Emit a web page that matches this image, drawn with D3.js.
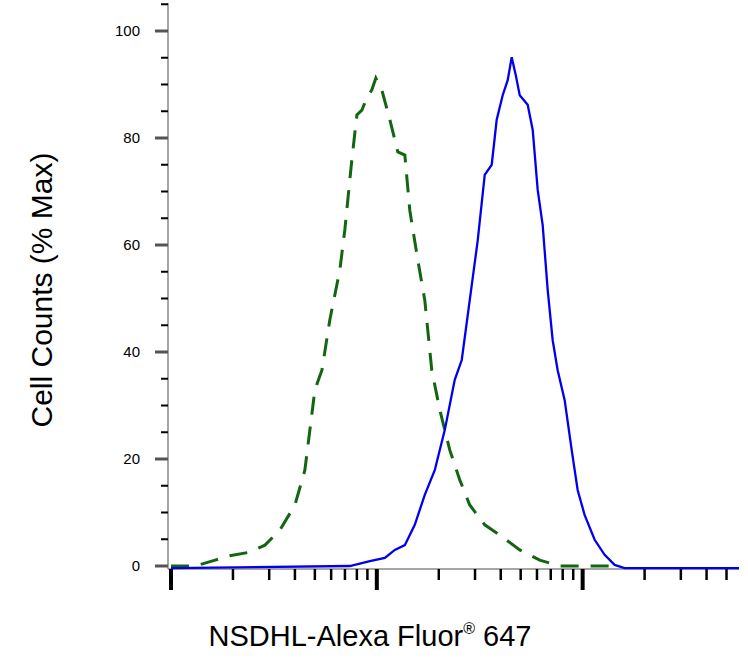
<!DOCTYPE html><html><head><script src="https://cdn.jsdelivr.net/npm/d3@7"></script>
<style>body{margin:0;background:#fff}</style></head><body><svg id="c" width="748" height="665"></svg>
<script>
const yTicks=[0,20,40,60,80,100];
const isoX=[1,1.31,1.64,1.93,2.42,2.86,3.38,4.0,4.47,5.0,5.41,5.91,6.61,6.99,7.56,8.0,8.46,8.85,9.46,9.89,10.57,11.57,12.65,13.68,14.46,15.81,17.1,18.49,20.23,22.61,25.29,28.28,33.44,39.55,49.46,61.85,77.3,96.7,151];
const isoY=[0,0,1.1,1.9,2.6,3.9,6.7,11.4,17.9,32.9,36.6,46,55.3,62.8,75.9,84.3,85.2,87.1,89,91.2,89,83.4,77.4,76.8,66.5,57.2,49.7,36.6,29.2,21.7,16.1,11.4,7.7,5.8,3.0,1.1,0,0,0];
const abX=[1,7.39,9.25,10.94,12.23,13.68,15.29,17.1,19.12,21.38,23.91,25.86,28.28,30.93,33.44,36.16,38.23,40.89,43.24,45.22,47.3,49.46,54.08,57.2,60.48,63.95,67.63,71.52,75.62,81.78,88.45,94.56,102.3,114.4,127.9,143,159.9,575];
const abY=[-0.4,0,0.9,1.5,3.0,3.9,7.7,13.3,17.9,25.4,34.8,38.5,49.7,60.9,73.1,75,83.4,88,90.8,95.1,91.8,88,86.2,81.5,70.3,63.7,51.6,42.2,36.6,31,21.7,14.2,9.5,4.9,2.1,0.2,-0.4,-0.4];
const svg=d3.select("#c");
const x=d3.scaleLog().domain([1,575]).range([171,739]);
const y=d3.scaleLinear().domain([0,100]).range([566,31]);
const g=svg.append("g");
g.append("line").attr("x1",168).attr("x2",168).attr("y1",3).attr("y2",569).attr("stroke","#888").attr("stroke-width",1.5);
for(let v=0;v<=105;v+=5){const maj=v%20===0;
 g.append("line").attr("x1",maj?155:161).attr("x2",168).attr("y1",y(v)).attr("y2",y(v)).attr("stroke",maj?"#555":"#000").attr("stroke-width",maj?3:2);}
g.selectAll(".yt").data(yTicks).join("text").attr("x",140).attr("y",d=>y(d)+5).attr("text-anchor","end")
 .attr("font-family","Liberation Sans, Arial").attr("font-size",15).text(d=>d);
g.append("line").attr("x1",168).attr("x2",739).attr("y1",569).attr("y2",569).attr("stroke","#888").attr("stroke-width",1.5);
const xt=[];for(let e=0;e<3;e++)for(let m=1;m<10;m++){const v=m*Math.pow(10,e);if(v<=575)xt.push(v);}
xt.forEach(v=>{const maj=Math.abs(Math.log10(v)%1)<1e-9;
 g.append("line").attr("x1",x(v)).attr("x2",x(v)).attr("y1",569).attr("y2",maj?590:580).attr("stroke","#000").attr("stroke-width",maj?4:2.5);});
const line=d3.line().x(d=>x(d[0])).y(d=>y(d[1]));
svg.append("path").datum(isoX.map((v,i)=>[v,isoY[i]])).attr("d",line).attr("fill","none").attr("stroke","#126612").attr("stroke-width",3).attr("stroke-dasharray","18,12");
svg.append("path").datum(abX.map((v,i)=>[v,abY[i]])).attr("d",line).attr("fill","none").attr("stroke","#0000ee").attr("stroke-width",2.3);
svg.append("text").attr("transform","translate(52,290) rotate(-90)").attr("text-anchor","middle").attr("font-family","Liberation Sans, Arial").attr("font-size",30).text("Cell Counts (% Max)");
const t=svg.append("text").attr("x",370).attr("y",646).attr("text-anchor","middle").attr("font-family","Liberation Sans, Arial").attr("font-size",29);
t.append("tspan").text("NSDHL-Alexa Fluor");t.append("tspan").attr("font-size",16).attr("dy",-12).text("®");t.append("tspan").attr("dy",12).text(" 647");
</script></body></html>
